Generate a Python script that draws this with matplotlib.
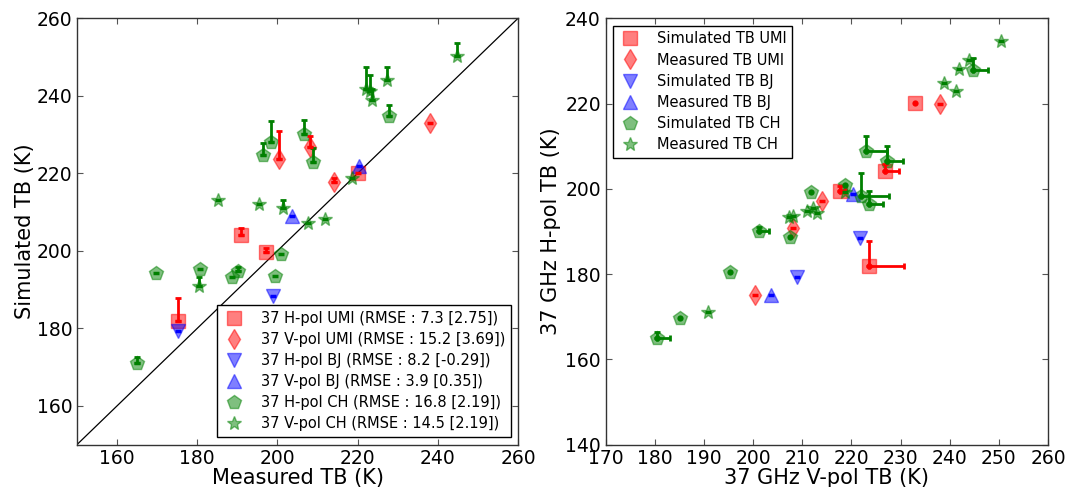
import numpy as np
import matplotlib
matplotlib.use("Agg")
import matplotlib.pyplot as plt

# ---------------- data ----------------
# UMI site (4 samples)
umi_meas_H = [175.2, 190.8, 197.2, 220.0]
umi_sim_H = [181.9, 204.2, 199.6, 220.2]
umi_err_H = [5.9, 1.7, 1.0, 0.0]
umi_meas_V = [200.4, 208.2, 214.0, 238.0]
umi_sim_V = [223.6, 226.8, 217.7, 233.0]
umi_err_V = [7.2, 2.9, 1.0, 0.0]

# BJ site (2 samples)
bj_meas_H = [175.1, 198.8]
bj_sim_H = [179.2, 188.4]
bj_meas_V = [203.7, 220.3]
bj_sim_V = [208.9, 221.8]

# CH site (12 samples)
ch_meas_H = [165.0, 169.8, 180.6, 190.2, 188.6, 199.3, 201.0, 198.3, 208.8, 196.5, 206.5, 227.8]
ch_sim_H = [171.1, 194.3, 195.4, 194.9, 193.3, 193.6, 199.2, 228.0, 222.9, 224.8, 230.2, 234.7]
ch_err_H = [1.5, 0.0, 0.0, 0.9, 0.0, 0.0, 0.0, 5.5, 3.7, 3.1, 3.5, 3.0]
ch_meas_V = [180.5, 185.2, 195.3, 201.3, 207.5, 211.8, 218.6, 222.0, 223.0, 223.5, 227.2, 244.7]
ch_sim_V = [190.8, 213.0, 212.2, 211.0, 207.3, 208.2, 218.7, 241.8, 241.2, 238.8, 244.0, 250.4]
ch_err_V = [2.5, 0.0, 0.0, 2.0, 0.0, 0.0, 0.0, 5.7, 4.2, 3.0, 3.4, 3.2]

left_labels = [
    "37 H-pol UMI (RMSE : 7.3 [2.75])",
    "37 V-pol UMI (RMSE : 15.2 [3.69])",
    "37 H-pol BJ (RMSE : 8.2 [-0.29])",
    "37 V-pol BJ (RMSE : 3.9 [0.35])",
    "37 H-pol CH (RMSE : 16.8 [2.19])",
    "37 V-pol CH (RMSE : 14.5 [2.19])",
]
right_labels = [
    "Simulated TB UMI",
    "Measured TB UMI",
    "Simulated TB BJ",
    "Measured TB BJ",
    "Simulated TB CH",
    "Measured TB CH",
]

left_xticks = [160, 180, 200, 220, 240, 260]
left_yticks = [160, 180, 200, 220, 240, 260]
right_xticks = list(range(170, 261, 10))
right_yticks = [140, 160, 180, 200, 220, 240]

# ---------------- style ----------------
RED, BLUE, GREEN = "#ff0000", "#0000ff", "#008000"
MS = 10
TICK_FS = 13.5
LABEL_FS = 15
LEG_FS = 10.5

fig = plt.figure(figsize=(10.65, 4.87), dpi=100)
axL = fig.add_axes([0.0723, 0.0871, 0.4141, 0.8753])
axR = fig.add_axes([0.5687, 0.0871, 0.4153, 0.8753])


def series(ax, x, y, marker, color, label, small, xerr=None, yerr=None):
    x = np.asarray(x, float)
    y = np.asarray(y, float)
    h, = ax.plot(x, y, ls="none", marker=marker, ms=MS, color=color,
                 mec=color, alpha=0.5, label=label, zorder=2)
    if small == "_":
        ax.plot(x, y, ls="none", marker="_", ms=5, mew=2.5, color=color, zorder=4)
    else:
        ax.plot(x, y, ls="none", marker="o", ms=4.5, mew=0, color=color, zorder=4)
    if yerr is not None:
        e = np.asarray(yerr, float)
        m = e > 0
        if m.any():
            ax.errorbar(x[m], y[m], yerr=[np.zeros(m.sum()), e[m]], fmt="none",
                        ecolor=color, elinewidth=2, capsize=2.5, capthick=2, zorder=3)
    if xerr is not None:
        e = np.asarray(xerr, float)
        m = e > 0
        if m.any():
            ax.errorbar(x[m], y[m], xerr=[np.zeros(m.sum()), e[m]], fmt="none",
                        ecolor=color, elinewidth=2, capsize=2.5, capthick=2, zorder=3)
    return h


# ---------------- left panel ----------------
axL.plot([150, 260], [150, 260], color="black", lw=0.9, zorder=1)
hL = []
hL.append(series(axL, umi_meas_H, umi_sim_H, "s", RED, left_labels[0], "_", yerr=umi_err_H))
hL.append(series(axL, umi_meas_V, umi_sim_V, "d", RED, left_labels[1], "_", yerr=umi_err_V))
hL.append(series(axL, bj_meas_H, bj_sim_H, "v", BLUE, left_labels[2], "_"))
hL.append(series(axL, bj_meas_V, bj_sim_V, "^", BLUE, left_labels[3], "_"))
hL.append(series(axL, ch_meas_H, ch_sim_H, "p", GREEN, left_labels[4], "_", yerr=ch_err_H))
hL.append(series(axL, ch_meas_V, ch_sim_V, "*", GREEN, left_labels[5], "_", yerr=ch_err_V))
axL.set_xlim(150, 260)
axL.set_ylim(150, 260)
axL.set_xticks(left_xticks)
axL.set_yticks(left_yticks)
axL.set_xlabel("Measured TB (K)", fontsize=LABEL_FS, labelpad=0)
axL.set_ylabel("Simulated TB (K)", fontsize=LABEL_FS, labelpad=1)
axL.legend(handles=hL, loc="lower right", numpoints=1, fontsize=LEG_FS,
           fancybox=False, edgecolor="black", framealpha=1, labelspacing=0.42,
           handlelength=1.6, handletextpad=1.0, borderaxespad=0.5)

# ---------------- right panel ----------------
hR = []
hR.append(series(axR, umi_sim_V, umi_sim_H, "s", RED, right_labels[0], "o",
                 xerr=umi_err_V, yerr=umi_err_H))
hR.append(series(axR, umi_meas_V, umi_meas_H, "d", RED, right_labels[1], "_"))
hR.append(series(axR, bj_sim_V, bj_sim_H, "v", BLUE, right_labels[2], "_"))
hR.append(series(axR, bj_meas_V, bj_meas_H, "^", BLUE, right_labels[3], "_"))
hR.append(series(axR, ch_meas_V, ch_meas_H, "p", GREEN, right_labels[4], "o",
                 xerr=ch_err_V, yerr=ch_err_H))
hR.append(series(axR, ch_sim_V, ch_sim_H, "*", GREEN, right_labels[5], "_"))
axR.set_xlim(170, 260)
axR.set_ylim(140, 240)
axR.set_xticks(right_xticks)
axR.set_yticks(right_yticks)
axR.set_xlabel("37 GHz V-pol TB (K)", fontsize=LABEL_FS, labelpad=0)
axR.set_ylabel("37 GHz H-pol TB (K)", fontsize=LABEL_FS, labelpad=3)
axR.legend(handles=hR, loc="upper left", numpoints=1, fontsize=LEG_FS,
           fancybox=False, edgecolor="black", framealpha=1, labelspacing=0.42,
           handlelength=1.6, handletextpad=1.0, borderaxespad=0.5)

for ax in (axL, axR):
    ax.tick_params(direction="in", top=True, right=True, labelsize=TICK_FS,
                   length=4, width=0.8, color="#555555", pad=3.5)
    for s in ax.spines.values():
        s.set_linewidth(1.0)
        s.set_color("#333333")

fig.savefig("out.png", dpi=100)
